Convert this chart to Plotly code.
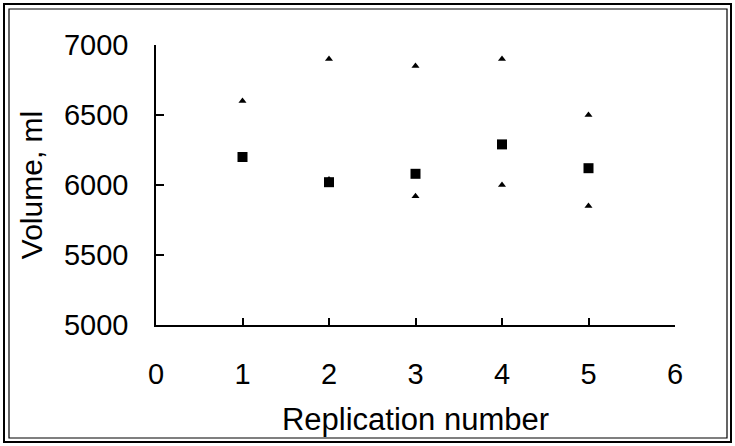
import plotly.graph_objects as go

replication = [1, 2, 3, 4, 5]
mean_volume = [6200, 6020, 6080, 6290, 6120]
upper_volume = [6600, 6900, 6850, 6900, 6500]
lower_volume = [None, 6040, 5920, 6000, 5850]

x_ticks = [0, 1, 2, 3, 4, 5, 6]
y_ticks = [5000, 5500, 6000, 6500, 7000]

W, H = 735, 446
L, R, T, B = 156, 60, 45, 121
PW, PH = W - L - R, H - T - B


def px(x):
    return (x - L) / PW


def py(y):
    return (H - B - y) / PH


FONT = "Liberation Sans, Arial, sans-serif"

fig = go.Figure()
fig.add_trace(go.Scatter(x=replication, y=upper_volume, mode="markers",
                         marker=dict(symbol="triangle-up", size=7, color="black"),
                         showlegend=False))
fig.add_trace(go.Scatter(x=replication, y=lower_volume, mode="markers",
                         marker=dict(symbol="triangle-up", size=7, color="black"),
                         showlegend=False))
fig.add_trace(go.Scatter(x=replication, y=mean_volume, mode="markers",
                         marker=dict(symbol="square", size=10, color="black"),
                         showlegend=False))

# outer double frame
fig.add_shape(type="rect", xref="paper", yref="paper",
              x0=px(4), x1=px(731), y0=py(442), y1=py(4),
              line=dict(color="black", width=2))
fig.add_shape(type="rect", xref="paper", yref="paper",
              x0=px(9), x1=px(727), y0=py(438), y1=py(9),
              line=dict(color="black", width=1.2))

fig.update_layout(
    width=W, height=H,
    margin=dict(l=L, r=R, t=T, b=B),
    paper_bgcolor="white", plot_bgcolor="white",
    font=dict(family=FONT, size=29, color="black"),
    xaxis=dict(range=[0, 6], tickvals=x_ticks, showgrid=False, zeroline=False,
               showline=True, linecolor="black", linewidth=1.5,
               ticks="inside", ticklen=7, tickcolor="black", tickwidth=1.5,
               ticklabelstandoff=22,
               title=dict(text="Replication number", standoff=20,
                          font=dict(size=31))),
    yaxis=dict(range=[5000, 7000], tickvals=y_ticks, showgrid=False, zeroline=False,
               showline=True, linecolor="black", linewidth=1.5,
               ticks="inside", ticklen=8, tickcolor="black", tickwidth=1.5,
               ticklabelstandoff=20,
               title=dict(text="Volume, ml", standoff=12, font=dict(size=30))),
)

fig.write_html("out.html", config={"displayModeBar": False},
               post_script="document.body.style.margin='0';"
                           "document.body.style.overflow='hidden';")
